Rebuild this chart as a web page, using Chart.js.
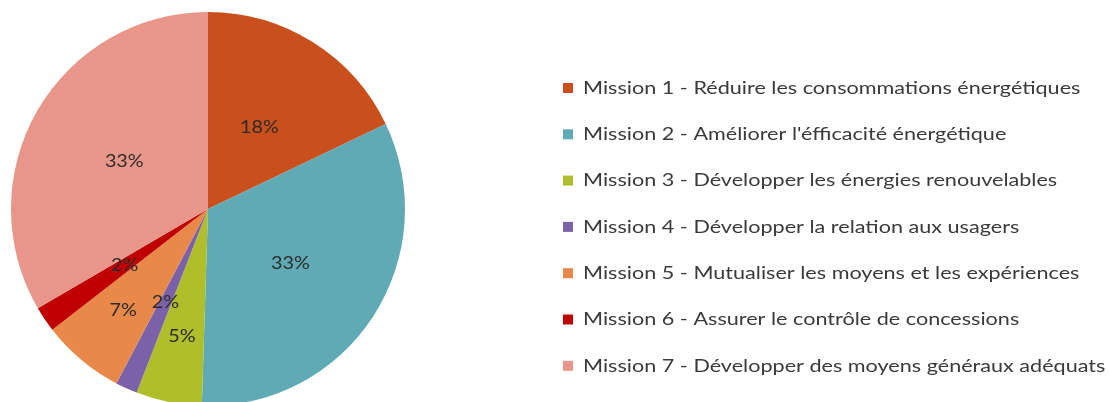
<!DOCTYPE html>
<html>
<head>
<meta charset="utf-8">
<script src="https://cdn.jsdelivr.net/npm/chart.js@4/dist/chart.umd.min.js"></script>
<style>
  html, body { margin: 0; padding: 0; background: #fff; }
  #wrap { width: 1110px; height: 402px; overflow: hidden; position: relative; }
</style>
</head>
<body>
<div id="wrap">
  <canvas id="pie" width="1110" height="420"></canvas>
</div>
<script>
// Données (parts en %)
const missions = [
  "Mission 1 - Réduire les consommations énergétiques",
  "Mission 2 - Améliorer l'éfficacité énergétique",
  "Mission 3 - Développer les énergies renouvelables",
  "Mission 4 - Développer la relation aux usagers",
  "Mission 5 - Mutualiser les moyens et les expériences",
  "Mission 6 - Assurer le contrôle de concessions",
  "Mission 7 - Développer des moyens généraux adéquats"
];
const parts = [17.9, 32.6, 5.4, 1.8, 6.8, 2.1, 33.4];

// couleurs des secteurs
const couleurs = ['#C9501C', '#5FAAB4', '#AFBE2A', '#7B62A8', '#E8894A', '#C00000', '#E8968A'];
// distance des étiquettes depuis le centre (fraction du rayon)
const posEtiquettes = [0.49, 0.5, 0.66, 0.52, 0.67, 0.51, 0.49];

const FONT = 'Lato, "Open Sans", sans-serif';

// étiquettes en % dans les secteurs
const pourcentages = {
  id: 'pourcentages',
  afterDatasetsDraw(chart) {
    const ctx = chart.ctx;
    const meta = chart.getDatasetMeta(0);
    const data = chart.data.datasets[0].data;
    const total = data.reduce((a, b) => a + b, 0);
    ctx.save();
    ctx.font = '18px ' + FONT;
    ctx.fillStyle = '#2b2b2b';
    ctx.textAlign = 'center';
    ctx.textBaseline = 'middle';
    meta.data.forEach((arc, i) => {
      const p = arc.getProps(['x', 'y', 'startAngle', 'endAngle', 'outerRadius'], true);
      const a = (p.startAngle + p.endAngle) / 2;
      const r = p.outerRadius * posEtiquettes[i];
      const tx = p.x + Math.cos(a) * r, ty = p.y + Math.sin(a) * r;
      ctx.save();
      ctx.translate(tx, ty);
      ctx.scale(1.1, 1);
      ctx.fillText(Math.round(data[i] / total * 100) + '%', 0, 0);
      ctx.restore();
    });
    ctx.restore();
  }
};

// légende à droite
const legende = {
  id: 'legende',
  afterDraw(chart) {
    const ctx = chart.ctx;
    const x0 = 563, y0 = 88, pas = 46.3;
    ctx.save();
    ctx.font = '18px ' + FONT;
    ctx.textBaseline = 'middle';
    chart.data.labels.forEach((lab, i) => {
      const y = y0 + i * pas;
      ctx.fillStyle = couleurs[i];
      ctx.fillRect(x0, y - 5, 10, 10);
      ctx.fillStyle = '#3a3a3a';
      ctx.save();
      ctx.translate(x0 + 20, y);
      ctx.scale(1.2, 1);
      ctx.fillText(lab, 0, 0);
      ctx.restore();
    });
    ctx.restore();
  }
};

new Chart(document.getElementById('pie'), {
  type: 'pie',
  data: {
    labels: missions,
    datasets: [{
      data: parts,
      backgroundColor: couleurs,
      borderWidth: 0
    }]
  },
  options: {
    responsive: false,
    animation: false,
    layout: { padding: { left: 11, top: 12, right: 705, bottom: 14 } },
    plugins: {
      legend: { display: false },
      tooltip: { enabled: false }
    }
  },
  plugins: [pourcentages, legende]
});
</script>
</body>
</html>
